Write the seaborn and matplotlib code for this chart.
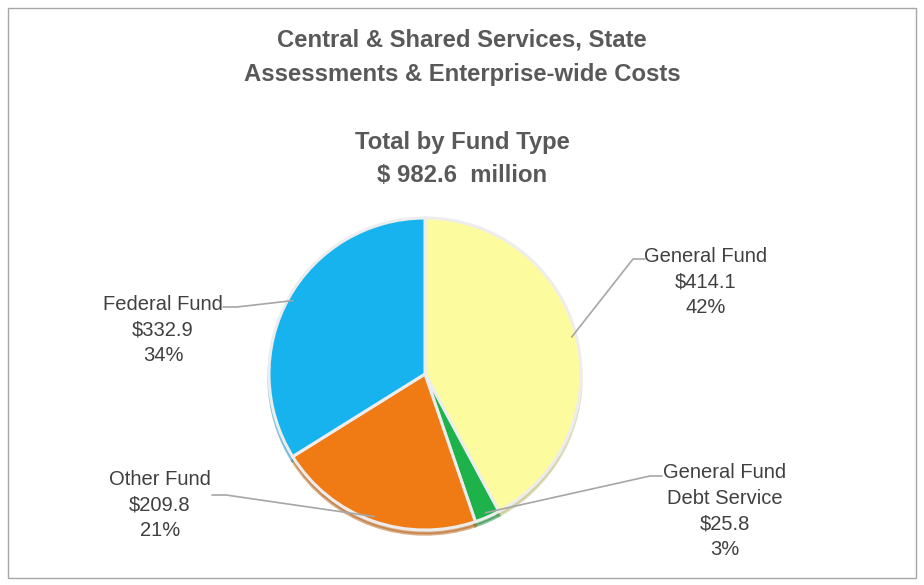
import numpy as np
import pandas as pd
import seaborn as sns
import matplotlib.pyplot as plt
from matplotlib.patches import Rectangle

# chart data
funds = ["General Fund", "General Fund\nDebt Service", "Other Fund", "Federal Fund"]
amounts = [414.1, 25.8, 209.8, 332.9]
percents = ["42%", "3%", "21%", "34%"]
title_lines = ["Central & Shared Services, State", "Assessments & Enterprise-wide Costs",
               "Total by Fund Type", "$ 982.6  million"]

colors = ["#FCFC9E", "#1DB24A", "#F07A14", "#16B3EE"]

sns.set_theme(style="white")
plt.rcParams["font.family"] = ["Liberation Sans Narrow", "Liberation Sans", "DejaVu Sans"]

df = pd.DataFrame({"fund": funds, "amount": amounts, "pct": percents})

fig = plt.figure(figsize=(9.24, 5.85), dpi=100)
ax = fig.add_axes([0, 0, 1, 1])
ax.set_xlim(0, 924)
ax.set_ylim(0, 585)
ax.set_aspect("equal")
ax.axis("off")

# outer border
fig.patches.append(Rectangle((8 / 924, 7 / 585), 908 / 924, 570 / 585, transform=fig.transFigure,
                             fill=False, edgecolor="#A6A6A6", linewidth=1))

cx, cy, r = 425, 585 - 374, 156
wedges, _ = ax.pie(df["amount"], colors=colors, startangle=90, counterclock=False,
                   center=(cx, cy), radius=r, explode=[0.012] * 4,
                   wedgeprops=dict(edgecolor="#EDEDED", linewidth=2.2),
                   shadow=dict(ox=0.0, oy=-3, shade=0.25))
ax.set_xlim(0, 924)
ax.set_ylim(0, 585)

# label layout (pixel coords from top), same order as wedges
text_pos = [(706, 282), (725, 511), (160, 505), (163, 330)]
elbows = [[(633, 259), (645, 259)], [(650, 476), (662, 476)],
          [(226, 495), (212, 495)], [(237, 307), (223, 307)]]

for w, (fund, amt, pct), (tx, ty), elb in zip(wedges, df.itertuples(index=False), text_pos, elbows):
    ang = np.deg2rad((w.theta1 + w.theta2) / 2)
    ex = cx + 0.97 * r * np.cos(ang)
    ey = cy + 0.97 * r * np.sin(ang)
    xs = [ex] + [p[0] for p in elb]
    ys = [ey] + [585 - p[1] for p in elb]
    ax.plot(xs, ys, color="#A6A6A6", linewidth=1.2)
    ax.text(tx, 585 - ty, f"{fund}\n${amt:.1f}\n{pct}", ha="center", va="center",
            fontsize=14.5, color="#404040", linespacing=1.46)

for line, y in zip(title_lines, [40, 75, 142, 175]):
    ax.text(462, 585 - y, line, ha="center", va="center", fontsize=17.2, fontweight="bold",
            color="#595959", family=["Liberation Sans", "DejaVu Sans"])

fig.savefig("out.png", dpi=100)
